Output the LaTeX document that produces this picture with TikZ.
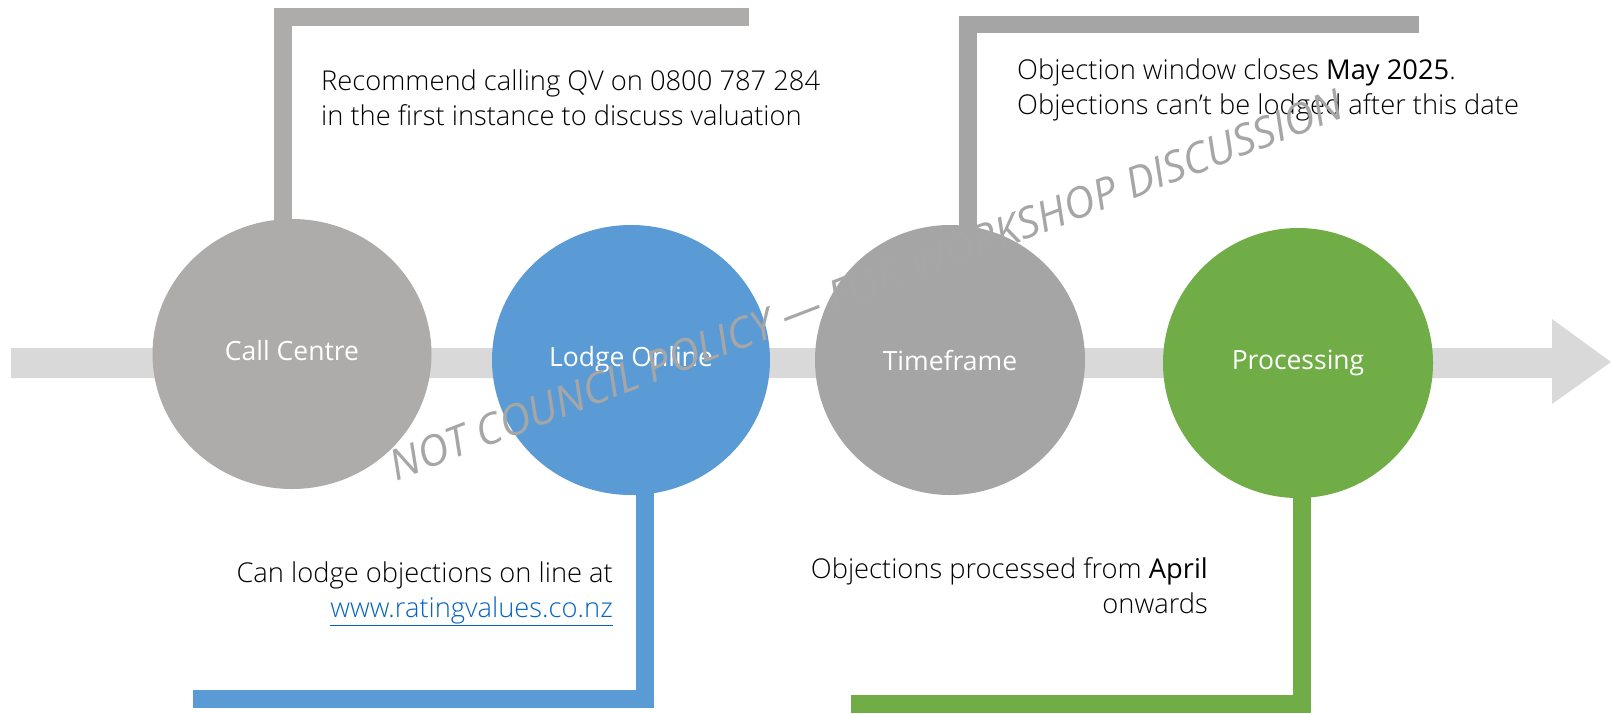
\documentclass[tikz,border=0pt]{standalone}
\usepackage{fontspec}
\setmainfont{Open Sans}[UprightFont=* Light, ItalicFont=* Light Italic]
\newfontfamily\medfont{Open Sans}
\usetikzlibrary{shapes.geometric}

\definecolor{barGray}{HTML}{D9D9D9}
\definecolor{callGray}{HTML}{AEABAB}
\definecolor{timeGray}{HTML}{A5A5A5}
\definecolor{lodgeBlue}{HTML}{5B9BD5}
\definecolor{procGreen}{HTML}{70AD47}
\definecolor{linkBlue}{HTML}{0563C1}
\definecolor{markGray}{HTML}{A6A6A6}

\begin{document}
\begin{tikzpicture}[x=1pt,y=-1pt,
		stage/.style={ellipse,inner sep=0pt,minimum width=#1,minimum height=270pt,
			text=white,font=\medfont\fontsize{26.5}{30}\selectfont},
		bracket/.style={line width=17.5pt},
		note/.style={inner sep=0pt,font=\fontsize{27.3}{35}\selectfont}]
	\useasboundingbox (0,0) rectangle (1611,713);
	% timeline arrow
	\fill[barGray] (11,348) -- (1552,348) -- (1552,319) -- (1611,362)
		-- (1552,404) -- (1552,378) -- (11,378) -- cycle;
	% the four stages
	\node[stage=279pt,fill=callGray] (cc) at (292,354) {\raisebox{7pt}{Call Centre}};
	\node[stage=278pt,fill=lodgeBlue] (lo) at (631,360) {Lodge Online};
	\node[stage=270pt,fill=timeGray] (tf) at (950,360) {Timeframe};
	\node[stage=270pt,fill=procGreen] (pr) at (1298,363) {Processing};
	% brackets, each one starts a little inside its stage
	\coordinate (ccFoot) at ([yshift=-3pt]cc.north);
	\coordinate (tfFoot) at ([yshift=-3pt]tf.north);
	\coordinate (loFoot) at ([yshift=3pt]lo.south);
	\coordinate (prFoot) at ([yshift=3pt]pr.south);
	\coordinate (ccCorner) at (283,17);   \coordinate (ccEnd) at (749,17);
	\coordinate (tfCorner) at (968,24.5); \coordinate (tfEnd) at (1419,24.5);
	\coordinate (loCorner) at (645,699);  \coordinate (loEnd) at (193,699);
	\coordinate (prCorner) at (1302,704); \coordinate (prEnd) at (851,704);
	\draw[bracket,callGray] (ccCorner |- ccFoot) -- (ccCorner) -- (ccEnd);
	\draw[bracket,timeGray] (tfCorner |- tfFoot) -- (tfCorner) -- (tfEnd);
	\draw[bracket,lodgeBlue] (loCorner |- loFoot) -- (loCorner) -- (loEnd);
	\draw[bracket,procGreen] (prCorner |- prFoot) -- (prCorner) -- (prEnd);
	% notes
	\node[note,anchor=west,align=left] (ccNote) at (321,98)
		{Recommend calling QV on 0800 787 284\\in the first instance to discuss valuation};
	\node[note,anchor=west,align=left] (tfNote) at (1017,90)
		{Objection window closes {\medfont May 2025}.\\Objections can’t be lodged after this date};
	\node[note,anchor=east,align=right] (loNote) at (613,594)
		{Can lodge objections on line at\\\textcolor{linkBlue}{\underline{www.ratingvalues.co.nz}}};
	\node[note,anchor=east,align=right] (prNote) at (1208,586)
		{Objections processed from {\medfont April}\\onwards};
	% watermark
	\node[rotate=21,text=markGray,font=\medfont\fontsize{42.5}{45}\itshape\selectfont] (mark) at (866,285)
		{NOT COUNCIL POLICY — FOR WORKSHOP DISCUSSION};
\end{tikzpicture}
\end{document}
